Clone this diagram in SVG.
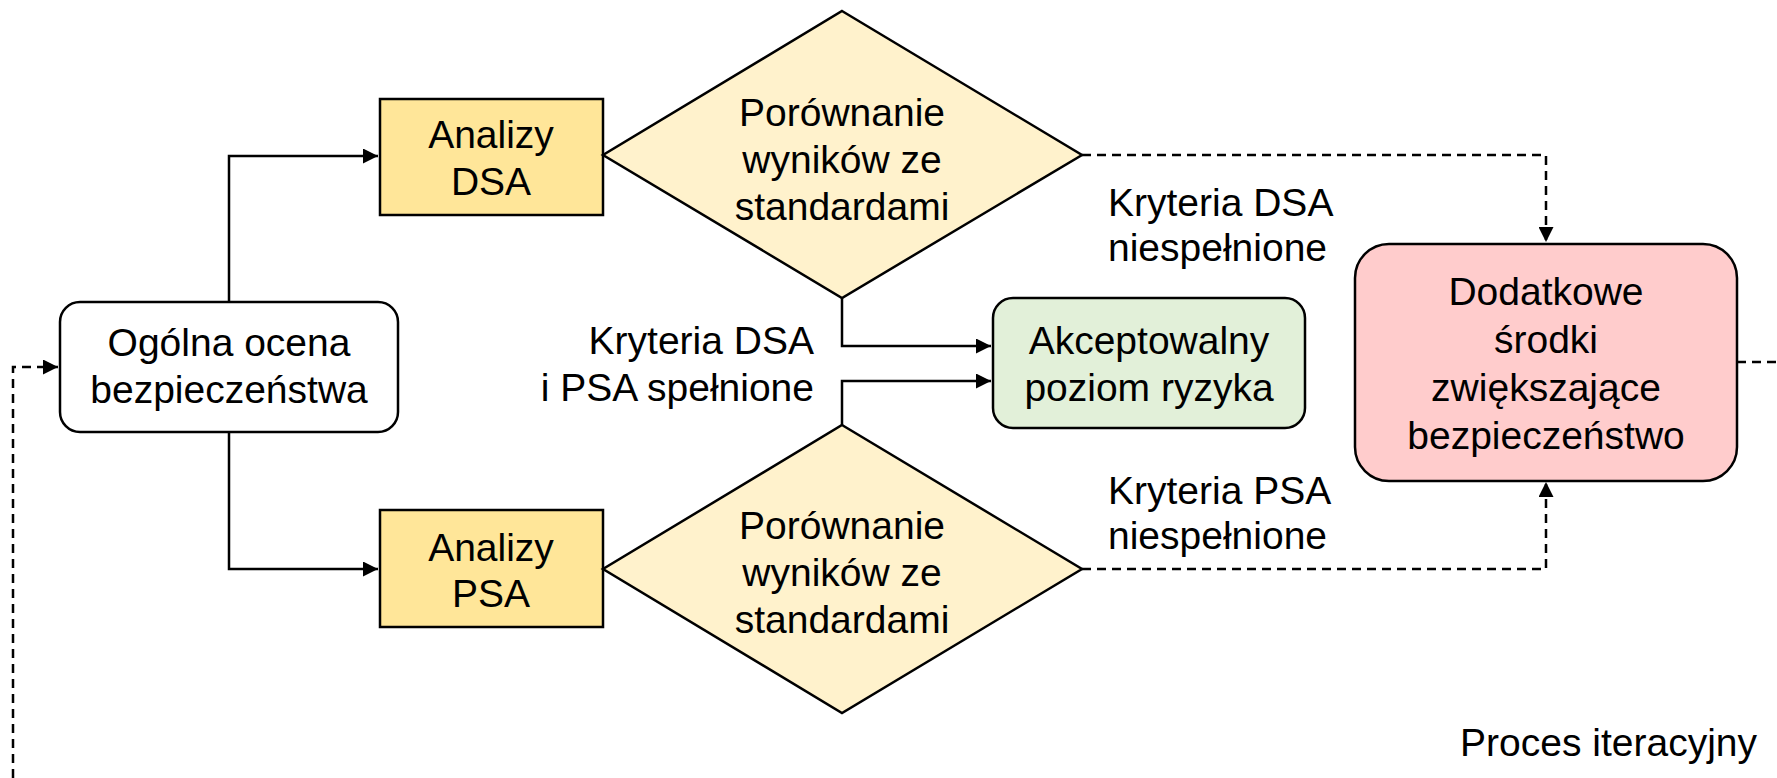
<svg xmlns="http://www.w3.org/2000/svg" width="1777" height="778" viewBox="0 0 1777 778">
  <style>
    text { font-family: "Liberation Sans", Arial, sans-serif; font-size: 39px; fill: #000; }
    .c { text-anchor: middle; }
    .r { text-anchor: end; }
    .shape { stroke: #000; stroke-width: 2.5; }
    .conn { fill: none; stroke: #000; stroke-width: 2.5; }
    .dash { stroke-dasharray: 9 6; }
  </style>
  <defs>
    <marker id="arrow" viewBox="0 0 10 10" refX="10" refY="5" markerWidth="6" markerHeight="6" markerUnits="strokeWidth" orient="auto">
      <path d="M0,0 L10,5 L0,10 Z" fill="#000"/>
    </marker>
  </defs>

  <rect width="1777" height="778" fill="#fff"/>

  <!-- connectors -->
  <g id="connectors">
    <polyline class="conn" points="229,302 229,156 378,156" marker-end="url(#arrow)"/>
    <polyline class="conn" points="229,432 229,569 378,569" marker-end="url(#arrow)"/>
    <polyline class="conn" points="842,298 842,346 991,346" marker-end="url(#arrow)"/>
    <polyline class="conn" points="842,425 842,381 991,381" marker-end="url(#arrow)"/>
    <polyline class="conn dash" points="1082,155 1546,155 1546,242" marker-end="url(#arrow)"/>
    <polyline class="conn dash" points="1082,569 1546,569 1546,482" marker-end="url(#arrow)"/>
    <polyline class="conn dash" points="1737,362 1777,362"/>
    <polyline class="conn dash" points="13,778 13,367 58,367" marker-end="url(#arrow)"/>
  </g>

  <!-- start node -->
  <g id="ogolna">
    <rect class="shape" x="60" y="302" width="338" height="130" rx="20" fill="#fff"/>
    <text class="c" x="229" y="356">Ogólna ocena</text>
    <text class="c" x="229" y="403">bezpieczeństwa</text>
  </g>

  <!-- analyses -->
  <g id="analizy-dsa">
    <rect class="shape" x="380" y="99" width="223" height="116" fill="#FFE699"/>
    <text class="c" x="491" y="148">Analizy</text>
    <text class="c" x="491" y="195">DSA</text>
  </g>
  <g id="analizy-psa">
    <rect class="shape" x="380" y="510" width="223" height="117" fill="#FFE699"/>
    <text class="c" x="491" y="561">Analizy</text>
    <text class="c" x="491" y="607">PSA</text>
  </g>

  <!-- decisions -->
  <g id="porownanie-dsa">
    <polygon class="shape" points="842,11 1082,155 842,298 603,155" fill="#FFF2CC"/>
    <text class="c" x="842" y="126">Porównanie</text>
    <text class="c" x="842" y="173">wyników ze</text>
    <text class="c" x="842" y="220">standardami</text>
  </g>
  <g id="porownanie-psa">
    <polygon class="shape" points="842,425 1082,569 842,713 603,569" fill="#FFF2CC"/>
    <text class="c" x="842" y="539">Porównanie</text>
    <text class="c" x="842" y="586">wyników ze</text>
    <text class="c" x="842" y="633">standardami</text>
  </g>

  <!-- outcomes -->
  <g id="akceptowalny">
    <rect class="shape" x="993" y="298" width="312" height="130" rx="20" fill="#E2F0D9"/>
    <text class="c" x="1149" y="354">Akceptowalny</text>
    <text class="c" x="1149" y="401">poziom ryzyka</text>
  </g>
  <g id="dodatkowe">
    <rect class="shape" x="1355" y="244" width="382" height="237" rx="34" fill="#FFCCCC"/>
    <text class="c" x="1546" y="305">Dodatkowe</text>
    <text class="c" x="1546" y="353">środki</text>
    <text class="c" x="1546" y="401">zwiększające</text>
    <text class="c" x="1546" y="449">bezpieczeństwo</text>
  </g>

  <!-- connector labels -->
  <g id="labels">
    <text x="1108" y="216">Kryteria DSA</text>
    <text x="1108" y="261">niespełnione</text>
    <text x="1108" y="504">Kryteria PSA</text>
    <text x="1108" y="549">niespełnione</text>
    <text class="r" x="814" y="354">Kryteria DSA</text>
    <text class="r" x="814" y="401">i PSA spełnione</text>
    <text class="r" x="1757" y="756">Proces iteracyjny</text>
  </g>
</svg>
